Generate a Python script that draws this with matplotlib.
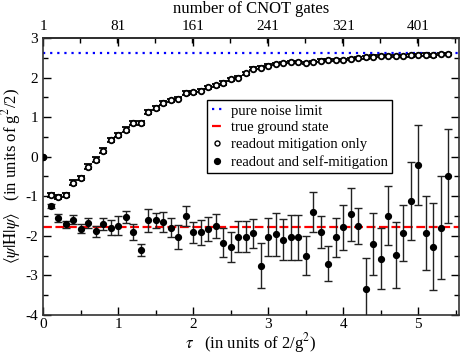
import matplotlib
matplotlib.use("Agg")
import matplotlib.pyplot as plt
import numpy as np
from matplotlib.lines import Line2D
from matplotlib.ticker import MultipleLocator

plt.rcParams['font.family'] = 'Liberation Serif'
plt.rcParams['mathtext.fontset'] = 'stix'
plt.rcParams['axes.unicode_minus'] = False

# time steps (units of 2/g^2)
tau = [0.0, 0.1, 0.2, 0.3, 0.4, 0.5, 0.6, 0.7, 0.8, 0.9,
       1.0, 1.1, 1.2, 1.3, 1.4, 1.5, 1.6, 1.7, 1.8, 1.9,
       2.0, 2.1, 2.2, 2.3, 2.4, 2.5, 2.6, 2.7, 2.8, 2.9,
       3.0, 3.1, 3.2, 3.3, 3.4, 3.5, 3.6, 3.7, 3.8, 3.9,
       4.0, 4.1, 4.2, 4.3, 4.4, 4.5, 4.6, 4.7, 4.8, 4.9,
       5.0, 5.1, 5.2, 5.3, 5.4]

# readout mitigation only (open circles)
readout_only = [0.00, -0.97, -1.01, -0.96, -0.66, -0.54, -0.25, -0.08, 0.15, 0.42,
                0.55, 0.68, 0.85, 0.85, 1.13, 1.22, 1.35, 1.42, 1.47, 1.60,
                1.63, 1.67, 1.75, 1.80, 1.86, 1.96, 2.00, 2.11, 2.22, 2.25,
                2.30, 2.34, 2.36, 2.40, 2.40, 2.36, 2.39, 2.43, 2.44, 2.44,
                2.44, 2.47, 2.50, 2.51, 2.53, 2.55, 2.55, 2.55, 2.55, 2.56,
                2.57, 2.58, 2.56, 2.59, 2.59]
readout_only_err = [0.0, 0.05, 0.05, 0.05, 0.06, 0.06, 0.06, 0.06, 0.06, 0.06,
                    0.06, 0.06, 0.06, 0.05, 0.06, 0.05, 0.05, 0.05, 0.05, 0.05,
                    0.04, 0.04, 0.04, 0.04, 0.04, 0.04, 0.04, 0.04, 0.04, 0.04,
                    0.04, 0.03, 0.03, 0.03, 0.03, 0.03, 0.03, 0.03, 0.03, 0.03,
                    0.03, 0.03, 0.03, 0.03, 0.03, 0.03, 0.03, 0.03, 0.03, 0.03,
                    0.03, 0.03, 0.03, 0.03, 0.03]

# readout and self-mitigation (filled circles)
self_mit = [0.00, -1.24, -1.56, -1.71, -1.59, -1.82, -1.68, -1.88, -1.70, -1.79,
            -1.74, -1.52, -1.90, -2.35, -1.60, -1.61, -1.65, -1.79, -2.02, -1.49,
            -1.91, -1.91, -1.83, -1.75, -2.17, -2.27, -2.02, -2.02, -1.94, -2.75,
            -2.04, -1.96, -2.10, -2.04, -2.04, -2.50, -1.39, -1.91, -2.70, -2.04,
            -1.78, -1.46, -1.75, -3.35, -2.21, -2.58, -1.49, -2.48, -1.92, -1.12,
            -0.21, -1.92, -2.27, -1.79, -0.48]
self_mit_err = [0.0, 0.05, 0.10, 0.09, 0.12, 0.11, 0.13, 0.14, 0.14, 0.19,
                0.23, 0.16, 0.20, 0.15, 0.29, 0.20, 0.26, 0.25, 0.30, 0.25,
                0.26, 0.31, 0.30, 0.30, 0.36, 0.38, 0.40, 0.40, 0.36, 0.56,
                0.48, 0.55, 0.52, 0.57, 0.57, 0.50, 0.50, 0.40, 0.45, 0.49,
                0.57, 0.67, 0.46, 0.78, 0.78, 0.77, 0.74, 0.83, 0.71, 0.99,
                1.02, 0.93, 1.10, 1.31, 1.19]

noise_limit = 2.625
ground_state = -1.78

fig = plt.figure(figsize=(4.63, 3.58), dpi=100)
ax = fig.add_axes([0.093, 0.12, 0.898, 0.774])

ax.axhline(noise_limit, color='#0000ff', ls=(0, (1, 2.2)), lw=1.6, zorder=1)
ax.axhline(ground_state, color='red', ls=(0, (4, 1.6)), lw=1.6, zorder=1)

ax.errorbar(tau, readout_only, yerr=readout_only_err, fmt='o', ms=4.0,
            mfc='white', mec='black', mew=1.3, ecolor='black', elinewidth=1.1,
            capsize=2.8, capthick=1.1, zorder=3)
ax.errorbar(tau, self_mit, yerr=self_mit_err, fmt='o', ms=4.2,
            color='black', ecolor='#222222', elinewidth=1.0,
            capsize=2.8, capthick=1.0, zorder=4)

ax.set_xlim(0, 5.54)
ax.set_ylim(-4, 3)
ax.xaxis.set_major_locator(MultipleLocator(1))
ax.xaxis.set_minor_locator(MultipleLocator(0.5))
ax.yaxis.set_major_locator(MultipleLocator(1))
ax.yaxis.set_minor_locator(MultipleLocator(0.5))
ax.tick_params(which='both', direction='in', right=True, labelsize=11, width=1.0)
ax.tick_params(which='major', length=6)
ax.tick_params(which='minor', length=3.5)
ax.tick_params(axis='x', which='both', top=False, pad=2)
for s in ax.spines.values():
    s.set_linewidth(1.2)
    s.set_color('#333333')

ax.set_xlabel(r'$\tau$   (in units of 2/g$^2$)', fontsize=12, labelpad=0)
ax.set_ylabel(r'$\langle\psi|\mathrm{H}|\psi\rangle$   (in units of g$^2$/2)',
              fontsize=12, labelpad=2)

top = ax.secondary_xaxis('top', functions=(lambda t: 1 + 80 * t, lambda n: (n - 1) / 80))
top.set_xticks([1, 81, 161, 241, 321, 401])
top.xaxis.set_minor_locator(MultipleLocator(40))
top.tick_params(which='both', direction='in', labelsize=11, width=1.0)
top.tick_params(which='major', length=6)
top.tick_params(which='minor', length=3.5)
top.set_xlabel('number of CNOT gates', fontsize=12, labelpad=5)
top.spines['top'].set_linewidth(1.2)

handles = [
    Line2D([], [], color='#0000ff', ls=(0, (1, 2.2)), lw=1.6),
    Line2D([], [], color='red', ls=(0, (4, 1.6)), lw=1.6),
    Line2D([], [], ls='none', marker='o', ms=3.6, mfc='white', mec='black', mew=1.0),
    Line2D([], [], ls='none', marker='o', ms=4.2, color='black'),
]
labels = ['pure noise limit', 'true ground state',
          'readout mitigation only', 'readout and self-mitigation']
leg = ax.legend(handles, labels, loc='upper left', bbox_to_anchor=(0.395, 0.776),
                borderaxespad=0, fontsize=10.5, frameon=True, fancybox=False,
                framealpha=1, edgecolor='black', handlelength=0.8,
                handletextpad=0.5, labelspacing=0.25, borderpad=0.3)
leg.get_frame().set_linewidth(1.0)

fig.savefig('out.png', dpi=100)
